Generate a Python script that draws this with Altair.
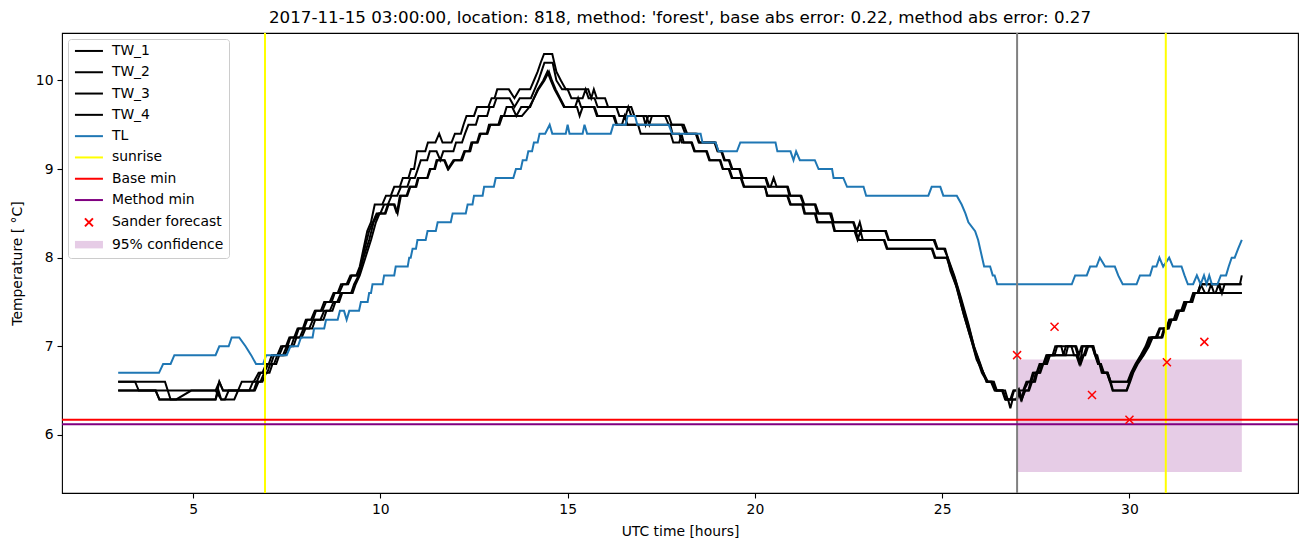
import altair as alt
import pandas as pd

# ---------------- data ----------------
tw1_t = [3.0,3.45,3.55,5.6,5.7,5.8,6.2,6.3,6.62,6.75,6.85,6.95,7.02,7.1,7.25,7.35,7.48,7.57,7.7,7.79,7.93,8.01,8.15,8.25,8.41,8.5,8.65,8.75,8.86,8.95,9.1,9.2,9.36,9.45,9.55,9.65,9.75,9.85,10.05,10.15,10.28,10.37,10.52,10.6,10.75,10.82,10.9,10.98,11.2,11.27,11.47,11.57,11.66,11.9,11.99,12.15,12.22,12.3,12.5,12.58,12.88,12.97,13.05,13.12,13.43,13.58,13.72,14.0,14.1,14.2,14.28,14.37,14.59,14.7,14.82,14.95,15.55,15.63,15.7,15.78,16.0,16.08,16.7,16.78,17.1,17.18,17.25,17.7,17.78,18.1,18.19,18.42,18.5,18.95,19.02,19.1,19.18,19.3,19.38,19.58,19.65,20.28,20.35,20.42,20.5,20.58,20.86,20.92,21.21,21.3,21.6,21.66,22.0,22.08,22.64,22.72,22.8,22.86,23.48,23.56,24.77,24.86,25.05,25.15,25.32,25.5,25.7,25.85,26.02,26.18,26.35,26.45,26.62,26.7,26.82,26.9,27.02,27.1,27.18,27.3,27.38,27.45,27.55,27.62,27.72,27.8,27.95,28.02,28.55,28.62,28.68,28.75,29.04,29.1,29.17,29.22,29.28,29.4,29.48,29.97,30.06,30.19,30.33,30.46,30.56,30.88,30.95,31.05,31.13,31.25,31.33,31.45,31.53,31.68,31.75,31.84,31.92,32.95,33.0]
tw1_v = [6.6,6.6,6.5,6.5,6.6,6.5,6.5,6.6,6.6,6.7,6.7,6.8,6.8,6.9,6.9,7.0,7.0,7.1,7.1,7.2,7.2,7.3,7.3,7.4,7.4,7.5,7.5,7.6,7.6,7.7,7.7,7.8,7.8,7.9,8.1,8.3,8.4,8.6,8.6,8.7,8.7,8.8,8.8,8.9,8.9,9.0,9.0,9.2,9.2,9.3,9.3,9.4,9.3,9.3,9.4,9.4,9.5,9.6,9.6,9.7,9.7,9.8,9.8,9.9,9.9,9.8,9.9,9.9,10.0,10.1,10.2,10.3,10.3,10.1,10.0,9.9,9.9,9.8,9.9,9.8,9.8,9.7,9.7,9.6,9.6,9.5,9.6,9.6,9.5,9.5,9.4,9.4,9.3,9.3,9.2,9.2,9.1,9.1,9.0,9.0,8.9,8.9,8.8,8.8,8.9,8.8,8.8,8.7,8.7,8.6,8.6,8.5,8.5,8.4,8.4,8.3,8.4,8.3,8.3,8.2,8.2,8.1,8.1,8.0,7.8,7.55,7.25,7.0,6.8,6.6,6.6,6.5,6.5,6.4,6.4,6.5,6.5,6.4,6.5,6.6,6.6,6.7,6.7,6.8,6.8,6.9,6.9,7.0,7.0,6.9,6.8,7.0,7.0,6.9,6.8,6.8,6.7,6.7,6.6,6.6,6.7,6.8,6.9,7.0,7.1,7.1,7.2,7.2,7.3,7.3,7.4,7.4,7.5,7.5,7.6,7.6,7.7,7.7,7.8]

tw2_t = [3.0,4.25,4.4,4.55,4.95,5.6,5.75,5.85,5.95,6.5,6.6,6.7,6.8,6.9,7.0,7.08,7.16,7.3,7.4,7.52,7.6,7.74,7.82,7.96,8.05,8.2,8.28,8.45,8.55,8.7,8.78,8.9,9.0,9.14,9.24,9.38,9.48,9.58,9.7,9.8,9.9,10.0,10.1,10.2,10.3,10.45,10.55,10.72,10.8,10.92,11.0,11.08,11.25,11.32,11.5,11.6,11.68,11.95,12.02,12.18,12.26,12.35,12.55,12.62,12.85,12.92,13.02,13.1,13.45,13.58,13.72,14.02,14.12,14.22,14.3,14.38,14.6,14.7,14.85,15.0,15.1,15.4,15.48,15.56,15.72,15.8,16.3,16.38,16.55,16.62,16.7,17.02,17.08,17.15,17.6,17.7,18.05,18.14,18.45,18.52,18.92,19.0,19.12,19.2,19.32,19.4,19.6,19.68,20.3,20.38,20.88,20.95,21.24,21.32,21.62,21.7,22.04,22.1,22.62,22.7,23.5,23.58,24.8,24.88,25.08,25.18,25.35,25.55,25.72,25.88,26.05,26.2,26.38,26.46,26.68,26.75,26.85,26.92,27.08,27.16,27.25,27.35,27.42,27.52,27.6,27.7,27.78,28.0,28.07,28.18,28.24,28.3,28.58,28.65,28.72,29.02,29.08,29.14,29.2,29.26,29.42,29.5,29.95,30.04,30.16,30.3,30.43,30.52,30.85,30.92,31.02,31.1,31.22,31.3,31.42,31.5,31.65,31.72,31.82,31.9,32.4,32.47,32.54,33.0]
tw2_v = [6.6,6.6,6.4,6.4,6.5,6.5,6.4,6.4,6.5,6.5,6.6,6.6,6.7,6.7,6.8,6.8,6.9,6.9,7.0,7.0,7.1,7.1,7.2,7.2,7.3,7.3,7.4,7.4,7.5,7.5,7.6,7.6,7.7,7.7,7.8,7.8,7.9,8.1,8.3,8.4,8.5,8.5,8.6,8.6,8.7,8.7,8.8,8.8,8.9,8.9,9.0,9.1,9.1,9.2,9.2,9.1,9.2,9.2,9.3,9.3,9.4,9.5,9.5,9.6,9.6,9.7,9.7,9.8,9.8,9.7,9.8,9.8,9.9,10.0,10.1,10.2,10.2,10.0,9.9,9.9,9.8,9.8,9.9,9.8,9.8,9.7,9.7,9.6,9.6,9.7,9.6,9.6,9.5,9.6,9.6,9.5,9.5,9.4,9.4,9.3,9.3,9.2,9.2,9.1,9.1,9.0,9.0,8.9,8.9,8.8,8.8,8.7,8.7,8.6,8.6,8.5,8.5,8.4,8.4,8.3,8.3,8.2,8.2,8.1,8.1,7.95,7.75,7.45,7.2,6.95,6.75,6.6,6.6,6.5,6.5,6.4,6.4,6.5,6.5,6.5,6.6,6.6,6.7,6.7,6.8,6.8,6.9,6.9,7.0,7.0,6.9,7.0,7.0,6.9,7.0,7.0,6.9,6.9,6.8,6.7,6.7,6.6,6.6,6.7,6.8,6.9,7.0,7.1,7.1,7.2,7.2,7.3,7.3,7.4,7.4,7.5,7.5,7.6,7.6,7.7,7.7,7.6,7.7,7.7]

tw3_t = [3.0,4.0,4.1,5.6,5.7,5.8,6.2,6.62,6.7,6.8,6.9,6.98,7.06,7.16,7.25,7.4,7.5,7.62,7.7,7.85,7.95,8.1,8.2,8.4,8.5,8.65,8.75,8.85,8.95,9.22,9.3,9.42,9.55,9.7,9.82,9.95,10.12,10.2,10.36,10.44,10.52,10.7,10.78,10.94,11.0,11.25,11.32,11.44,11.5,11.7,11.8,11.95,12.15,12.24,12.37,12.43,12.58,12.65,12.84,12.9,13.15,13.22,13.3,13.37,13.52,13.63,13.76,14.0,14.1,14.2,14.35,14.46,14.55,14.65,14.78,14.9,15.2,15.28,15.36,15.7,15.78,16.22,16.3,16.45,16.52,16.6,17.74,17.8,17.98,18.05,18.3,18.38,18.7,18.78,19.06,19.14,19.3,19.38,19.62,19.7,20.28,20.32,20.86,20.94,21.26,21.32,21.6,21.66,22.06,22.12,22.68,22.78,23.44,23.52,24.72,24.8,25.12,25.2,25.36,25.55,25.72,25.9,26.06,26.2,26.3,26.4,26.6,26.68,27.0,27.06,27.13,27.2,27.3,27.36,27.44,27.5,27.6,27.66,27.76,27.84,28.3,28.36,28.45,28.52,28.62,28.7,28.78,28.86,29.0,29.08,29.16,29.22,29.3,29.4,29.48,29.55,29.92,30.0,30.08,30.2,30.36,30.5,30.6,30.7,30.8,30.98,31.06,31.18,31.26,31.38,31.46,31.62,31.7,31.82,31.9,32.02,32.3,32.38,32.45,33.0]
tw3_v = [6.5,6.5,6.4,6.4,6.6,6.5,6.5,6.5,6.6,6.6,6.7,6.7,6.8,6.8,6.9,6.9,7.0,7.0,7.1,7.1,7.2,7.2,7.3,7.3,7.4,7.4,7.5,7.5,7.6,7.6,7.7,7.8,8.0,8.2,8.4,8.5,8.5,8.6,8.6,8.5,8.7,8.7,8.8,8.8,8.9,8.9,9.0,9.0,9.1,9.1,9.0,9.1,9.1,9.2,9.2,9.3,9.3,9.4,9.4,9.5,9.5,9.6,9.6,9.7,9.7,9.6,9.7,9.7,9.8,9.9,10.0,10.1,10.0,9.9,9.8,9.7,9.7,9.8,9.7,9.7,9.6,9.6,9.5,9.5,9.6,9.5,9.5,9.4,9.4,9.3,9.3,9.2,9.2,9.1,9.1,9.0,9.0,8.9,8.9,8.8,8.8,8.7,8.7,8.6,8.6,8.5,8.5,8.4,8.4,8.3,8.3,8.2,8.2,8.1,8.1,8.0,8.0,7.9,7.7,7.4,7.15,6.9,6.7,6.6,6.6,6.5,6.5,6.4,6.4,6.5,6.4,6.5,6.5,6.6,6.6,6.7,6.7,6.8,6.8,6.9,6.9,7.0,7.0,6.9,6.9,6.8,6.9,7.0,7.0,6.9,6.8,6.8,6.7,6.7,6.6,6.5,6.5,6.6,6.7,6.8,6.9,7.0,7.1,7.1,7.2,7.2,7.3,7.3,7.4,7.4,7.5,7.5,7.6,7.6,7.7,7.6,7.6,7.7,7.6,7.6]

tw4_t = [3.0,4.0,4.1,5.6,5.68,5.75,6.1,6.2,6.65,6.75,6.85,6.95,7.04,7.12,7.22,7.3,7.45,7.55,7.68,7.76,7.9,8.0,8.18,8.26,8.48,8.56,8.72,8.8,8.9,8.98,9.26,9.34,9.45,9.6,9.75,9.88,9.98,10.14,10.22,10.38,10.46,10.55,10.72,10.8,10.96,11.02,11.26,11.34,11.46,11.52,11.72,11.82,11.98,12.18,12.26,12.4,12.46,12.6,12.68,12.86,12.94,13.18,13.26,13.78,13.98,14.1,14.22,14.38,14.5,14.58,14.68,14.8,14.92,15.25,15.32,15.4,15.72,15.8,16.25,16.32,16.88,16.95,17.75,17.82,17.98,18.04,18.1,18.32,18.4,18.72,18.8,19.08,19.15,19.32,19.4,19.64,19.72,20.26,20.34,20.88,20.96,21.28,21.34,21.62,21.68,22.08,22.14,22.66,22.74,22.82,22.88,23.46,23.54,24.74,24.82,25.14,25.22,25.4,25.58,25.76,25.92,26.1,26.22,26.32,26.42,26.62,26.7,26.76,26.82,26.88,26.98,27.04,27.12,27.22,27.32,27.4,27.48,27.54,27.62,27.7,27.8,27.88,28.58,28.66,28.74,28.82,28.9,29.02,29.1,29.18,29.24,29.32,29.42,29.5,29.56,29.93,30.02,30.1,30.22,30.38,30.52,30.62,30.74,30.82,31.0,31.08,31.2,31.28,31.4,31.48,31.64,31.72,32.1,32.18,32.26,33.0]
tw4_v = [6.5,6.5,6.4,6.4,6.5,6.4,6.4,6.5,6.5,6.6,6.6,6.7,6.7,6.8,6.8,6.9,6.9,7.0,7.0,7.1,7.1,7.2,7.2,7.3,7.3,7.4,7.4,7.5,7.5,7.6,7.6,7.7,7.8,8.0,8.2,8.4,8.5,8.5,8.6,8.6,8.5,8.7,8.7,8.8,8.8,8.9,8.9,9.0,9.0,9.1,9.1,9.0,9.1,9.1,9.2,9.2,9.3,9.3,9.4,9.4,9.5,9.5,9.6,9.6,9.7,9.8,9.9,10.0,10.1,10.0,9.9,9.8,9.7,9.7,9.6,9.7,9.7,9.6,9.6,9.5,9.5,9.4,9.4,9.3,9.3,9.4,9.3,9.3,9.2,9.2,9.1,9.1,9.0,9.0,8.9,8.9,8.8,8.8,8.7,8.7,8.6,8.6,8.5,8.5,8.4,8.4,8.3,8.3,8.2,8.3,8.2,8.2,8.1,8.1,8.0,8.0,7.85,7.65,7.35,7.1,6.85,6.7,6.6,6.6,6.5,6.5,6.4,6.4,6.3,6.4,6.4,6.5,6.4,6.5,6.5,6.6,6.6,6.7,6.7,6.8,6.8,6.9,6.9,6.8,6.9,6.9,7.0,7.0,6.9,6.8,6.8,6.7,6.7,6.6,6.5,6.5,6.6,6.7,6.8,6.9,7.0,7.1,7.1,7.2,7.2,7.3,7.3,7.4,7.4,7.5,7.5,7.6,7.6,7.7,7.6,7.6]

tl_t = [3.0,4.09,4.2,4.4,4.5,5.6,5.7,5.95,6.03,6.23,6.4,6.55,6.68,6.87,6.95,7.5,7.6,7.8,7.88,8.19,8.23,8.5,8.55,8.86,8.92,9.03,9.1,9.17,9.43,9.48,9.66,9.7,9.75,9.79,10.06,10.1,10.37,10.41,10.73,10.77,10.81,10.86,10.95,10.99,11.21,11.26,11.48,11.53,11.88,11.93,12.28,12.33,12.46,12.5,12.73,12.77,13.03,13.08,13.55,13.62,13.75,13.8,13.9,13.95,14.05,14.1,14.2,14.25,14.4,14.52,14.59,14.95,15.0,15.05,15.4,15.45,15.52,16.15,16.22,16.55,16.6,16.8,16.86,17.7,17.79,18.55,18.6,18.95,19.03,19.52,19.61,20.55,20.6,20.95,21.03,21.1,21.2,21.6,21.7,22.06,22.1,22.36,22.46,22.9,22.97,24.63,24.72,24.95,25.03,25.39,25.52,25.62,25.7,25.88,25.96,26.12,26.28,26.35,26.4,26.47,28.46,28.55,28.86,28.95,29.12,29.21,29.35,29.61,29.7,29.82,30.19,30.28,30.55,30.62,30.72,30.8,30.9,31.06,31.16,31.39,31.47,31.56,31.7,31.8,31.9,31.99,32.06,32.13,32.2,32.35,32.44,32.58,32.65,32.73,32.81,32.9,33.0]
tl_v = [6.7,6.7,6.8,6.8,6.9,6.9,7.0,7.0,7.1,7.1,7.0,6.9,6.8,6.8,6.9,6.9,7.0,7.0,7.1,7.1,7.2,7.2,7.3,7.3,7.4,7.4,7.3,7.4,7.4,7.5,7.5,7.6,7.6,7.7,7.7,7.8,7.8,7.9,7.9,8.0,8.0,8.1,8.1,8.2,8.2,8.3,8.3,8.4,8.4,8.5,8.5,8.6,8.6,8.7,8.7,8.8,8.8,8.9,8.9,9.0,9.0,9.1,9.1,9.2,9.2,9.3,9.3,9.4,9.4,9.5,9.4,9.4,9.5,9.4,9.4,9.5,9.4,9.4,9.5,9.5,9.6,9.6,9.5,9.5,9.4,9.4,9.3,9.3,9.2,9.2,9.3,9.3,9.2,9.2,9.1,9.2,9.1,9.1,9.0,9.0,8.9,8.9,8.8,8.8,8.7,8.7,8.8,8.8,8.7,8.7,8.6,8.5,8.4,8.3,8.2,7.9,7.9,7.8,7.8,7.7,7.7,7.8,7.8,7.9,7.9,8.0,7.9,7.9,7.8,7.7,7.7,7.8,7.8,7.9,7.9,8.0,7.9,8.0,7.9,7.9,7.8,7.7,7.7,7.8,7.7,7.8,7.7,7.8,7.7,7.7,7.8,7.8,7.9,8.0,8.0,8.1,8.2]

sunrise_hours = [6.92, 30.97]
forecast_start = 27.0
base_min = 6.17
method_min = 6.12
sander_hours = [27, 28, 29, 30, 31, 32]
sander_values = [6.90, 7.22, 6.45, 6.17, 6.82, 7.05]
conf_start, conf_end = 27.0, 33.0
conf_low, conf_high = 5.58, 6.85

title_text = ("2017-11-15 03:00:00, location: 818, method: 'forest', "
              "base abs error: 0.22, method abs error: 0.27")

# ---------------- build tables ----------------
series_names = ["TW_1", "TW_2", "TW_3", "TW_4", "TL"]
series_colors = ["black", "black", "black", "black", "#1f77b4"]
rows = []
for name, ts, vs in [("TW_1", tw1_t, tw1_v), ("TW_2", tw2_t, tw2_v),
                     ("TW_3", tw3_t, tw3_v), ("TW_4", tw4_t, tw4_v),
                     ("TL", tl_t, tl_v)]:
    for t, v in zip(ts, vs):
        rows.append({"series": name, "t": t, "v": v})
lines_df = pd.DataFrame(rows)

X = alt.Scale(domain=[1.5, 34.5], nice=False, zero=False)
Y = alt.Scale(domain=[5.344, 10.536], nice=False, zero=False)

xaxis = alt.Axis(values=[5, 10, 15, 20, 25, 30], format="d", title="UTC time [hours]", grid=False)
yaxis = alt.Axis(values=[6, 7, 8, 9, 10], format="d", title="Temperature [ °C]", grid=False)

conf = alt.Chart(pd.DataFrame({"a": [conf_start], "b": [conf_end],
                               "lo": [conf_low], "hi": [conf_high]})).mark_rect(
    color="#e6cce6").encode(
    x=alt.X("a:Q", scale=X, axis=xaxis), x2="b:Q",
    y=alt.Y("lo:Q", scale=Y, axis=yaxis), y2="hi:Q")

lines = alt.Chart(lines_df).mark_line(strokeWidth=2, clip=True).encode(
    x=alt.X("t:Q", scale=X),
    y=alt.Y("v:Q", scale=Y),
    color=alt.Color("series:N", scale=alt.Scale(domain=series_names, range=series_colors), legend=None),
    detail="series:N",
)

sun = alt.Chart(pd.DataFrame({"t": sunrise_hours})).mark_rule(
    color="#ffff00", strokeWidth=2).encode(x=alt.X("t:Q", scale=X))
fstart = alt.Chart(pd.DataFrame({"t": [forecast_start]})).mark_rule(
    color="#808080", strokeWidth=2).encode(x=alt.X("t:Q", scale=X))
bmin = alt.Chart(pd.DataFrame({"v": [base_min]})).mark_rule(
    color="#ff0000", strokeWidth=2).encode(y=alt.Y("v:Q", scale=Y))
mmin = alt.Chart(pd.DataFrame({"v": [method_min]})).mark_rule(
    color="#800080", strokeWidth=2).encode(y=alt.Y("v:Q", scale=Y))

xpath = "M-1,-1L1,1M-1,1L1,-1"
sander = alt.Chart(pd.DataFrame({"t": sander_hours, "v": sander_values})).mark_point(
    shape=xpath, filled=False, color="#ff0000", size=64, strokeWidth=1.5, opacity=1).encode(
    x=alt.X("t:Q", scale=X), y=alt.Y("v:Q", scale=Y))

# legend (dummy points outside the clipped domain)
legend_labels = ["TW_1", "TW_2", "TW_3", "TW_4", "TL", "sunrise", "Base min",
                 "Method min", "Sander forecast", "95% confidence"]
line_path = "M-2.8,0L2.8,0"
x_small = "M-0.8,-0.8L0.8,0.8M-0.8,0.8L0.8,-0.8"
patch_path = "M-2.8,-0.75L2.8,-0.75L2.8,0.75L-2.8,0.75Z"
shape_range = [line_path] * 8 + [x_small, patch_path]
stroke_range = ["black", "black", "black", "black", "#1f77b4", "#ffff00", "#ff0000",
                "#800080", "#ff0000", "transparent"]
fill_range = ["transparent"] * 9 + ["#e6cce6"]
leg = alt.Legend(title=None, orient="none", legendX=6, legendY=6,
                 labelFontSize=13.9, labelFont="DejaVu Sans", labelColor="black",
                 symbolSize=100, symbolOffset=9, labelOffset=16, rowPadding=6.3,
                 padding=5, strokeColor="#cccccc", fillColor="white", cornerRadius=3,
                 symbolStrokeWidth=2, symbolOpacity=1)
legend_df = pd.DataFrame({"label": legend_labels, "t": [-100.0] * 10, "v": [8.0] * 10})
legend_layer = alt.Chart(legend_df).mark_point(filled=True, strokeWidth=2, clip=True, opacity=1).encode(
    x=alt.X("t:Q", scale=X), y=alt.Y("v:Q", scale=Y),
    fill=alt.Fill("label:N", scale=alt.Scale(domain=legend_labels, range=fill_range), legend=leg),
    stroke=alt.Stroke("label:N", scale=alt.Scale(domain=legend_labels, range=stroke_range), legend=leg),
    shape=alt.Shape("label:N", scale=alt.Scale(domain=legend_labels, range=shape_range), legend=leg),
)

chart = alt.layer(conf, lines, sun, fstart, bmin, mmin, sander, legend_layer).resolve_scale(
    color="independent", fill="independent", stroke="independent", shape="independent"
).properties(
    width=1236, height=460,
    title=alt.TitleParams(title_text, fontSize=16.7, font="DejaVu Sans", fontWeight="normal",
                          color="black", anchor="middle", offset=5),
    padding={"left": 62, "top": 33, "right": 12, "bottom": 54},
    autosize=alt.AutoSizeParams(type="none"),
).configure(font="DejaVu Sans").configure_view(
    stroke="black", strokeWidth=1.1
).configure_axis(
    labelFontSize=13.9, labelColor="black", titleFontSize=13.9, titleColor="black",
    titleFontWeight="normal", tickColor="black", tickSize=5, tickWidth=1.1,
    domain=False, labelPadding=4, labelFont="DejaVu Sans", titleFont="DejaVu Sans"
).configure_axisX(titlePadding=9).configure_axisY(titlePadding=11)

chart.save("out.html", embed_options={"renderer": "svg", "actions": False})
